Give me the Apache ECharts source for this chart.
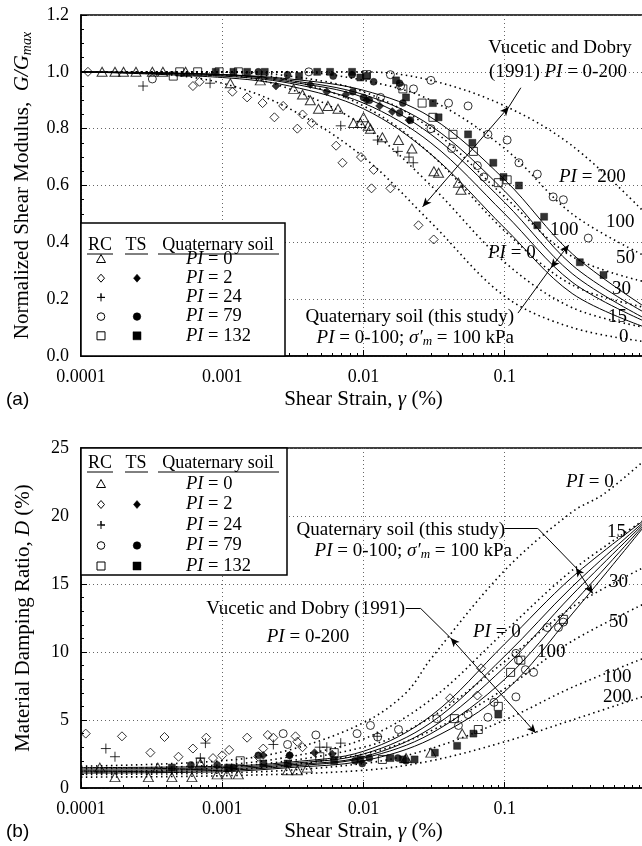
<!DOCTYPE html>
<html>
<head>
<meta charset="utf-8">
<script src="https://cdn.jsdelivr.net/npm/echarts@6/dist/echarts.min.js"></script>
<style>
  html, body { margin: 0; padding: 0; background: #fff; }
  #main { width: 642px; height: 846px; }
</style>
</head>
<body>
<div id="main"></div>
<script>
// ---- (a) G/Gmax : [strain %, G/Gmax] ----
var vdG0   = [[0.0001,1.0],[0.0003,0.995],[0.001,0.96],[0.003,0.87],[0.01,0.70],[0.03,0.47],[0.1,0.21],[0.3,0.10],[1,0.05]];
var vdG15  = [[0.0001,1],[0.001,0.99],[0.003,0.94],[0.01,0.81],[0.03,0.60],[0.1,0.33],[0.3,0.17],[1,0.10]];
var vdG30  = [[0.0001,1],[0.001,1],[0.003,0.97],[0.01,0.88],[0.03,0.71],[0.1,0.44],[0.3,0.25],[1,0.17]];
var vdG50  = [[0.0001,1],[0.001,1],[0.003,0.985],[0.01,0.93],[0.03,0.80],[0.1,0.56],[0.3,0.35],[1,0.26]];
var vdG100 = [[0.0001,1],[0.003,1],[0.01,0.97],[0.03,0.90],[0.1,0.73],[0.3,0.50],[1,0.35]];
var vdG200 = [[0.0001,1],[0.01,1],[0.03,0.97],[0.1,0.88],[0.3,0.74],[1,0.50]];

var qG1 = [[0.0001,1],[0.001,0.98],[0.003,0.95],[0.01,0.87],[0.03,0.71],[0.1,0.45],[0.3,0.22],[1,0.10]];
var qG2 = [[0.0001,1],[0.001,0.985],[0.003,0.96],[0.01,0.89],[0.03,0.75],[0.1,0.50],[0.3,0.26],[1,0.12]];
var qG3 = [[0.0001,1],[0.001,0.99],[0.003,0.965],[0.01,0.91],[0.03,0.78],[0.1,0.54],[0.3,0.29],[1,0.13]];
var qG4 = [[0.0001,1],[0.001,0.99],[0.003,0.97],[0.01,0.92],[0.03,0.81],[0.1,0.58],[0.3,0.32],[1,0.15]];
var qG5 = [[0.0001,1],[0.001,0.99],[0.003,0.975],[0.01,0.935],[0.03,0.84],[0.1,0.62],[0.3,0.36],[1,0.17]];

var rcG_PI0 = [[0.000141,1.0],[0.000174,1.0],[0.0002,1.0],[0.000245,1.0],[0.00032,1.0],[0.00038,1.0],[0.00055,1.0],[0.00114,0.96],[0.00186,0.97],[0.0032,0.94],[0.0037,0.92],[0.0042,0.90],[0.0048,0.87],[0.0056,0.88],[0.0066,0.87],[0.0085,0.82],[0.0095,0.82],[0.01,0.84],[0.0108,0.81],[0.0112,0.80],[0.0136,0.77],[0.0177,0.76],[0.022,0.73],[0.0315,0.65],[0.034,0.645],[0.047,0.61],[0.049,0.585]];
var rcG_PI2 = [[0.000112,1.0],[0.00062,0.95],[0.00069,0.965],[0.00118,0.93],[0.0015,0.91],[0.00193,0.89],[0.00234,0.84],[0.0027,0.88],[0.0034,0.80],[0.0037,0.85],[0.0043,0.82],[0.0064,0.74],[0.0071,0.68],[0.0096,0.70],[0.0118,0.655],[0.0114,0.59],[0.0155,0.59],[0.0245,0.46],[0.0314,0.41]];
var tsG_PI2 = [[0.0024,0.95],[0.0042,0.955],[0.0055,0.93],[0.0075,0.92],[0.0105,0.90],[0.013,0.88],[0.016,0.86],[0.021,0.83]];
var rcG_PI24 = [[0.000275,0.95],[0.00082,0.96],[0.0069,0.81],[0.0126,0.76],[0.0175,0.72],[0.0225,0.68],[0.021,0.70]];
var rcG_PI79 = [[0.00032,0.975],[0.0041,1.0],[0.0132,0.91],[0.0155,0.99],[0.0183,0.95],[0.0226,0.94],[0.03,0.97],[0.03,0.80],[0.04,0.89],[0.042,0.73],[0.055,0.88],[0.064,0.67],[0.071,0.63],[0.076,0.78],[0.104,0.76],[0.126,0.68],[0.17,0.64],[0.22,0.56],[0.26,0.55],[0.39,0.415]];
var tsG_PI79 = [[0.0018,1.0],[0.0029,0.99],[0.0061,0.985],[0.0083,0.99],[0.0084,0.93],[0.01,0.91],[0.011,0.90],[0.0118,0.965],[0.018,0.96],[0.018,0.855],[0.0215,0.83],[0.019,0.89]];
var rcG_PI132 = [[0.00045,0.985],[0.0005,1.0],[0.00067,1.0],[0.00095,1.0],[0.0013,1.0],[0.0105,0.99],[0.019,0.94],[0.026,0.89],[0.031,0.84],[0.043,0.78],[0.06,0.72],[0.09,0.61],[0.104,0.62]];
var tsG_PI132 = [[0.0009,1.0],[0.0012,1.0],[0.0015,1.0],[0.002,1.0],[0.0035,0.985],[0.0047,1.0],[0.0058,1.0],[0.0083,1.0],[0.0095,0.98],[0.0105,0.985],[0.017,0.97],[0.02,0.91],[0.031,0.89],[0.034,0.84],[0.055,0.78],[0.059,0.75],[0.083,0.68],[0.098,0.63],[0.126,0.60],[0.19,0.49],[0.17,0.46],[0.34,0.33],[0.5,0.285]];

// ---- (b) damping D % : [strain %, D] ----
var vdD0   = [[0.0001,1.6],[0.001,2.0],[0.003,2.8],[0.01,4.8],[0.02,7.0],[0.03,9.5],[0.1,16],[0.3,20.3],[0.5,21.6],[1,24.2]];
var vdD15  = [[0.0001,1.4],[0.001,1.7],[0.003,2.3],[0.01,3.6],[0.03,6.5],[0.1,11.5],[0.3,16],[1,19.8]];
var vdD30  = [[0.0001,1.2],[0.001,1.5],[0.01,3.0],[0.03,5.2],[0.1,9.3],[0.3,13.3],[1,16.3]];
var vdD50  = [[0.0001,1.1],[0.001,1.3],[0.01,2.5],[0.03,4.2],[0.1,7.3],[0.3,10.8],[1,13.6]];
var vdD100 = [[0.0001,1.0],[0.001,1.1],[0.01,1.8],[0.03,2.9],[0.1,5.0],[0.3,7.4],[1,9.6]];
var vdD200 = [[0.0001,0.8],[0.001,0.9],[0.01,1.3],[0.03,2.0],[0.1,3.4],[0.3,5.0],[1,6.8]];

var qD1 = [[0.0001,1.5],[0.001,1.6],[0.003,1.9],[0.01,2.7],[0.03,5.3],[0.1,10.6],[0.3,15.5],[1,19.8]];
var qD2 = [[0.0001,1.4],[0.001,1.5],[0.003,1.8],[0.01,2.5],[0.03,4.8],[0.1,9.7],[0.3,14.8],[1,19.7]];
var qD3 = [[0.0001,1.3],[0.001,1.4],[0.003,1.7],[0.01,2.3],[0.03,4.4],[0.1,8.9],[0.3,14.2],[1,19.6]];
var qD4 = [[0.0001,1.2],[0.001,1.3],[0.003,1.6],[0.01,2.2],[0.03,4.0],[0.1,8.0],[0.3,13.5],[1,19.5]];
var qD5 = [[0.0001,1.1],[0.001,1.2],[0.003,1.5],[0.01,2.0],[0.03,3.6],[0.1,7.1],[0.3,12.8],[1,19.4]];

var rcD_PI0 = [[0.000136,1.5],[0.000174,0.8],[0.0003,0.8],[0.00035,1.5],[0.00044,0.8],[0.00061,0.8],[0.0007,1.8],[0.00092,1.0],[0.00108,1.0],[0.0013,1.0],[0.0029,1.3],[0.0034,1.3],[0.004,1.5],[0.02,2.2],[0.03,2.6],[0.05,4.0]];
var rcD_PI2 = [[0.000108,4.0],[0.000195,3.8],[0.00031,2.6],[0.00039,3.75],[0.00049,2.3],[0.00062,2.9],[0.00077,3.7],[0.00086,2.2],[0.001,2.4],[0.00112,2.8],[0.0015,3.7],[0.0018,2.3],[0.00195,2.9],[0.0021,3.9],[0.0023,3.7],[0.0033,3.8],[0.0034,3.4],[0.0037,3.0],[0.041,6.6],[0.064,6.8],[0.068,8.8]];
var tsD_PI2 = [[0.00195,2.4],[0.003,2.4],[0.0045,2.6],[0.006,2.5]];
var rcD_PI24 = [[0.00015,2.9],[0.000174,2.3],[0.00076,3.3],[0.0007,2.2],[0.0023,3.2],[0.0049,3.0],[0.0069,3.3],[0.0055,3.0],[0.0125,3.8]];
var rcD_PI79 = [[0.0027,4.0],[0.0029,3.2],[0.0046,3.9],[0.009,4.0],[0.0112,4.6],[0.0126,3.75],[0.0177,4.3],[0.033,5.1],[0.047,4.6],[0.055,5.4],[0.076,5.2],[0.084,6.3],[0.12,6.7],[0.12,9.9],[0.125,9.4],[0.14,8.7],[0.16,8.5],[0.2,11.8],[0.24,11.8],[0.26,12.2]];
var tsD_PI79 = [[0.0006,1.7],[0.00092,1.7],[0.0012,1.5],[0.0018,2.4],[0.003,2.4],[0.0087,2.0],[0.0098,1.8],[0.011,2.2],[0.0175,2.2],[0.02,2.0]];
var rcD_PI132 = [[0.0007,1.9],[0.00134,2.0],[0.0049,2.3],[0.0062,2.6],[0.0136,2.1],[0.044,5.1],[0.065,4.3],[0.09,6.0],[0.11,8.5],[0.13,9.4],[0.26,12.4]];
var tsD_PI132 = [[0.00044,1.5],[0.0011,1.5],[0.00195,1.8],[0.0029,1.8],[0.0062,2.0],[0.0095,2.1],[0.0155,2.2],[0.019,2.1],[0.023,2.1],[0.032,2.6],[0.046,3.1],[0.06,4.0],[0.09,5.4]];

var legendRows = ['{i|PI} = 0', '{i|PI} = 2', '{i|PI} = 24', '{i|PI} = 79', '{i|PI} = 132'];

// ---------------------------------------------------------------
var SERIF = '"Liberation Serif", "Times New Roman", serif';
var SANS = '"Liberation Sans", Arial, sans-serif';
var chart = echarts.init(document.getElementById('main'));

var plusPath = 'path://M5,0L5,10M0,5L10,5';
var symDef = {
  tri:  { symbol: 'triangle', size: [10, 9] },
  dia:  { symbol: 'diamond',  size: [9, 9] },
  plus: { symbol: plusPath,   size: [10, 10] },
  circ: { symbol: 'circle',   size: [8, 8] },
  sq:   { symbol: 'rect',     size: [8, 8] }
};

function curve(data, gi, dotted) {
  return {
    type: 'line', xAxisIndex: gi, yAxisIndex: gi, data: data,
    smooth: 0.35, symbol: 'none', silent: true, z: 3,
    lineStyle: { color: '#000', width: dotted ? 1.6 : 1, type: dotted ? [1.5, 3.5] : 'solid' }
  };
}
function pts(data, gi, key, filled) {
  var d = symDef[key];
  return {
    type: 'scatter', xAxisIndex: gi, yAxisIndex: gi, data: data,
    symbol: d.symbol, symbolSize: filled ? [d.size[0] - 1, d.size[1] - 1] : d.size,
    silent: true, z: filled ? 5 : 4,
    itemStyle: filled ? { color: '#000', borderColor: '#000', borderWidth: 0.5 }
                      : { color: 'transparent', borderColor: '#000', borderWidth: 1 }
  };
}
function arrows(gi, segs) {
  return {
    type: 'line', xAxisIndex: gi, yAxisIndex: gi, data: [], silent: true, z: 6,
    markLine: {
      silent: true, animation: false, symbolSize: [6, 9],
      lineStyle: { color: '#000', width: 1, type: 'solid' },
      label: { show: false },
      data: segs.map(function (s) {
        return [{ coord: s[0], symbol: s[2] ? 'arrow' : 'none' },
                { coord: s[1], symbol: s[3] ? 'arrow' : 'none' }];
      })
    }
  };
}

function txt(x, y, s, align, size) {
  var fs = size || 19;
  var r = {
    i: { fontFamily: SERIF, fontSize: fs, fontStyle: 'italic', fill: '#000' },
    sub: { fontFamily: SERIF, fontSize: Math.round(fs * 0.68), fontStyle: 'italic', fill: '#000', padding: [7, 0, 0, 0] }
  };
  return {
    type: 'text', x: x, y: y, z: 20, silent: true,
    style: { text: s, fontFamily: SERIF, fontSize: fs, fill: '#000',
             align: align || 'left', verticalAlign: 'middle', rich: r }
  };
}

function xAxis(gi) {
  return {
    type: 'log', gridIndex: gi, min: 0.0001, max: 1, logBase: 10,
    name: 'Shear Strain, {i|γ} (%)', nameLocation: 'middle', nameGap: 33,
    nameTextStyle: { fontFamily: SERIF, fontSize: 21, color: '#000', rich: { i: { fontFamily: SERIF, fontSize: 21, fontStyle: 'italic' } } },
    axisLine: { lineStyle: { color: '#000', width: 1.5 } },
    axisTick: { inside: true, length: 6, lineStyle: { color: '#000' } },
    minorTick: { show: true, splitNumber: 9, length: 3, lineStyle: { color: '#000' } },
    splitLine: { show: true, lineStyle: { color: '#666', type: [1, 3], width: 1 } },
    axisLabel: { fontFamily: SERIF, fontSize: 18, color: '#000', margin: 12, hideOverlap: false,
                 formatter: function (v) { return v >= 1 ? '' : String(v); } }
  };
}
function yAxis(gi, max, step, dec, name, minor) {
  return {
    type: 'value', gridIndex: gi, min: 0, max: max, interval: step,
    name: name, nameLocation: 'middle', nameGap: 47, nameRotate: 90,
    nameTextStyle: { fontFamily: SERIF, fontSize: 21, color: '#000',
      rich: { i: { fontFamily: SERIF, fontSize: 21, fontStyle: 'italic' },
              sub: { fontFamily: SERIF, fontSize: 14, fontStyle: 'italic', padding: [9, 0, 0, 0] } } },
    axisLine: { show: true, lineStyle: { color: '#000', width: 1.5 } },
    axisTick: { show: true, inside: true, length: 6, lineStyle: { color: '#000' } },
    minorTick: { show: true, splitNumber: minor, length: 3, lineStyle: { color: '#000' } },
    splitLine: { show: true, lineStyle: { color: '#666', type: [1, 3], width: 1 } },
    axisLabel: { fontFamily: SERIF, fontSize: 18, color: '#000', margin: 12,
                 formatter: function (v) { return v.toFixed(dec); } }
  };
}

// legend table drawn as graphic
function legendBox(top, bottom, right, headY, row0, step) {
  var g = [];
  g.push({ type: 'rect', z: 15, silent: true, shape: { x: 81, y: top, width: right - 81, height: bottom - top },
           style: { fill: '#fff', stroke: '#000', lineWidth: 1.5 } });
  g.push(txt(100, headY, 'RC', 'center', 18));
  g.push(txt(136, headY, 'TS', 'center', 18));
  g.push(txt(218, headY, 'Quaternary soil', 'center', 18));
  [[87, 113], [125, 148], [158, 279]].forEach(function (u) {
    g.push({ type: 'line', z: 20, silent: true, shape: { x1: u[0], y1: headY + 9, x2: u[1], y2: headY + 9 },
             style: { stroke: '#000', lineWidth: 1 } });
  });
  var rc = ['tri', 'dia', 'plus', 'circ', 'sq'];
  var ts = [null, 'dia', null, 'circ', 'sq'];
  for (var k = 0; k < 5; k++) {
    var y = row0 + k * step;
    g.push(shape(rc[k], 101, y, false));
    if (ts[k]) g.push(shape(ts[k], 137, y, true));
    g.push(txt(186, y, legendRows[k], 'left', 18.5));
  }
  return g;
}
function shape(k, x, y, filled) {
  var st = filled ? { fill: '#000', stroke: '#000', lineWidth: 0.5 } : { fill: 'none', stroke: '#000', lineWidth: 1 };
  var base = { z: 20, silent: true, style: st };
  if (k === 'tri') return Object.assign(base, { type: 'polygon', shape: { points: [[x, y - 4.5], [x + 4.5, y + 3.5], [x - 4.5, y + 3.5]] } });
  if (k === 'dia') return Object.assign(base, { type: 'polygon', shape: { points: [[x, y - 4], [x + 3.5, y], [x, y + 4], [x - 3.5, y]] } });
  if (k === 'circ') return Object.assign(base, { type: 'circle', shape: { cx: x, cy: y, r: 3.8 } });
  if (k === 'sq') return Object.assign(base, { type: 'rect', shape: { x: x - 4, y: y - 4, width: 8, height: 8 } });
  return Object.assign(base, { type: 'polyline', shape: { points: [[x - 4, y], [x + 4, y], [x, y], [x, y - 4], [x, y + 4]] } });
}

var graphics = [].concat(
  legendBox(223, 356, 285, 245, 259, 19.2),
  legendBox(448, 575, 287, 463, 484, 20.5),
  [
    // panel (a) annotations
    txt(560, 48, 'Vucetic and Dobry', 'center'),
    txt(558, 72, '(1991) {i|PI} = 0-200', 'center'),
    txt(559, 177, '{i|PI} = 200', 'left'),
    txt(606, 222, '100', 'left'),
    txt(616, 258, '50', 'left'),
    txt(612, 289, '30', 'left'),
    txt(608, 317, '15', 'left'),
    txt(619, 337, '0', 'left'),
    txt(550, 230, '100', 'left'),
    txt(488, 253, '{i|PI} = 0', 'left'),
    txt(514, 317, 'Quaternary soil (this study)', 'right'),
    txt(514, 338, '{i|PI} = 0-100; {i|σ′}{sub|m} = 100 kPa', 'right'),
    { type: 'text', x: 6, y: 400, z: 20, silent: true,
      style: { text: '(a)', fontFamily: SANS, fontSize: 19, fill: '#000', verticalAlign: 'middle' } },
    // panel (b) annotations
    txt(566, 482, '{i|PI} = 0', 'left'),
    txt(505, 530, 'Quaternary soil (this study)', 'right'),
    txt(512, 551, '{i|PI} = 0-100; {i|σ′}{sub|m} = 100 kPa', 'right'),
    txt(607, 532, '15', 'left'),
    txt(609, 582, '30', 'left'),
    txt(609, 622, '50', 'left'),
    txt(405, 609, 'Vucetic and Dobry (1991)', 'right'),
    txt(308, 637, '{i|PI} = 0-200', 'center'),
    txt(473, 632, '{i|PI} = 0', 'left'),
    txt(537, 652, '100', 'left'),
    txt(603, 677, '100', 'left'),
    txt(603, 697, '200', 'left'),
    { type: 'text', x: 6, y: 832, z: 20, silent: true,
      style: { text: '(b)', fontFamily: SANS, fontSize: 19, fill: '#000', verticalAlign: 'middle' } }
  ]
);

var series = [
  curve(vdG0, 0, true), curve(vdG15, 0, true), curve(vdG30, 0, true),
  curve(vdG50, 0, true), curve(vdG100, 0, true), curve(vdG200, 0, true),
  curve(qG1, 0, false), curve(qG2, 0, false), curve(qG3, 0, false), curve(qG4, 0, false), curve(qG5, 0, false),
  pts(rcG_PI0, 0, 'tri', false), pts(rcG_PI2, 0, 'dia', false), pts(tsG_PI2, 0, 'dia', true),
  pts(rcG_PI24, 0, 'plus', false), pts(rcG_PI79, 0, 'circ', false), pts(tsG_PI79, 0, 'circ', true),
  pts(rcG_PI132, 0, 'sq', false), pts(tsG_PI132, 0, 'sq', true),
  arrows(0, [
    [[0.13, 0.944], [0.107, 0.877], false, false],
    [[0.107, 0.877], [0.0262, 0.525], true, true],
    [[0.124, 0.151], [0.212, 0.31], false, false],
    [[0.212, 0.31], [0.284, 0.391], true, true]
  ]),

  curve(vdD0, 1, true), curve(vdD15, 1, true), curve(vdD30, 1, true),
  curve(vdD50, 1, true), curve(vdD100, 1, true), curve(vdD200, 1, true),
  curve(qD1, 1, false), curve(qD2, 1, false), curve(qD3, 1, false), curve(qD4, 1, false), curve(qD5, 1, false),
  pts(rcD_PI0, 1, 'tri', false), pts(rcD_PI2, 1, 'dia', false), pts(tsD_PI2, 1, 'dia', true),
  pts(rcD_PI24, 1, 'plus', false), pts(rcD_PI79, 1, 'circ', false), pts(tsD_PI79, 1, 'circ', true),
  pts(rcD_PI132, 1, 'sq', false), pts(tsD_PI132, 1, 'sq', true),
  arrows(1, [
    [[0.0199, 13.2], [0.0254, 13.2], false, false],
    [[0.0254, 13.2], [0.0414, 11.03], false, false],
    [[0.0414, 11.03], [0.166, 4.04], true, true],
    [[0.1, 19.1], [0.171, 19.1], false, false],
    [[0.171, 19.1], [0.319, 16.2], false, false],
    [[0.319, 16.2], [0.42, 14.3], true, true]
  ])
];

chart.setOption({
  animation: false,
  backgroundColor: '#fff',
  grid: [
    { left: 81, top: 15, width: 565, height: 341, show: true, borderColor: '#000', borderWidth: 1.5,
      backgroundColor: 'transparent', containLabel: false, outerBoundsMode: 'none' },
    { left: 81, top: 448, width: 565, height: 340, show: true, borderColor: '#000', borderWidth: 1.5,
      backgroundColor: 'transparent', containLabel: false, outerBoundsMode: 'none' }
  ],
  xAxis: [xAxis(0), xAxis(1)],
  yAxis: [
    yAxis(0, 1.2, 0.2, 1, 'Normalized Shear Modulus,  {i|G/G}{sub|max}', 4),
    yAxis(1, 25, 5, 0, 'Material Damping Ratio, {i|D} (%)', 5)
  ],
  series: series,
  graphic: graphics
});
</script>
</body>
</html>
